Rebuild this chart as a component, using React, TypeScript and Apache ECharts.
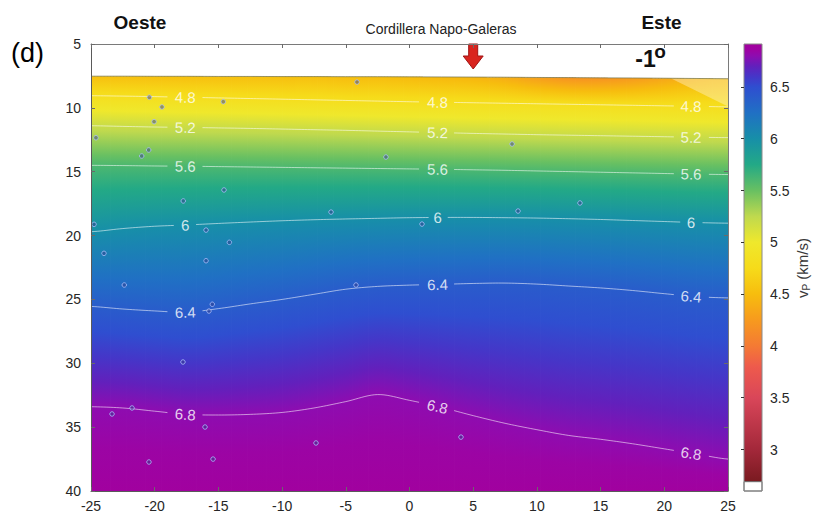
import React, { useEffect, useRef } from "react";
import * as echarts from "echarts";

const FONT = "Liberation Sans, Arial, sans-serif";

// Horizontal distance samples (km)
const distanceX = [-25, -22.5, -20, -17.5, -15, -12.5, -10, -7.5, -5, -2.5, 0, 2.5, 5, 7.5, 10, 12.5, 15, 17.5, 20, 22.5, 25];

// Top of the model (depth, km) and Vp at that surface
const surfaceDepth = [7.52, 7.52, 7.53, 7.53, 7.54, 7.54, 7.55, 7.55, 7.56, 7.56, 7.57, 7.58, 7.59, 7.6, 7.62, 7.63, 7.65, 7.66, 7.68, 7.7, 7.72];
const surfaceVp = [4.52, 4.52, 4.52, 4.52, 4.52, 4.52, 4.52, 4.52, 4.5, 4.5, 4.48, 4.46, 4.44, 4.38, 4.28, 4.2, 4.2, 4.25, 4.34, 4.44, 4.5];

// Contour levels (km/s) and their depths (km) at distanceX
const contourLevels = [4.8, 5.2, 5.6, 6.0, 6.4, 6.8];
const depth48 = [9.05, 9.08, 9.12, 9.17, 9.22, 9.27, 9.32, 9.37, 9.42, 9.47, 9.52, 9.56, 9.6, 9.64, 9.68, 9.72, 9.76, 9.8, 9.84, 9.88, 9.92];
const depth52 = [11.4, 11.45, 11.5, 11.53, 11.57, 11.61, 11.66, 11.71, 11.76, 11.82, 11.88, 11.94, 12.0, 12.05, 12.1, 12.14, 12.18, 12.22, 12.26, 12.3, 12.33];
const depth56 = [14.5, 14.52, 14.55, 14.57, 14.6, 14.63, 14.66, 14.69, 14.72, 14.75, 14.78, 14.81, 14.85, 14.89, 14.94, 14.99, 15.04, 15.09, 15.14, 15.19, 15.22];
const depth60 = [19.7, 19.45, 19.27, 19.17, 19.05, 18.94, 18.84, 18.76, 18.7, 18.65, 18.6, 18.58, 18.58, 18.6, 18.63, 18.68, 18.74, 18.82, 18.9, 18.98, 19.03];
const depth64 = [25.55, 25.75, 25.9, 26.0, 25.72, 25.35, 25.0, 24.6, 24.2, 23.98, 23.88, 23.82, 23.75, 23.72, 23.8, 23.95, 24.1, 24.3, 24.55, 24.78, 24.88];
const depth68 = [33.4, 33.5, 33.75, 34.0, 34.05, 34.0, 33.85, 33.5, 33.0, 32.45, 32.9, 33.45, 34.1, 34.7, 35.2, 35.65, 35.95, 36.3, 36.7, 37.1, 37.5];
const levelDepths = [depth48, depth52, depth56, depth60, depth64, depth68];

// Bottom of the section
const bottomDepth = 40;
const bottomVp = [6.9, 6.9, 6.9, 6.9, 6.9, 6.9, 6.9, 6.9, 6.9, 6.9, 6.9, 6.9, 6.9, 6.9, 6.9, 6.9, 6.9, 6.9, 6.9, 6.9, 6.9];

// Contour label positions (distance, km)
const clabelX = [-17.6, 2.2, 22.1];

// Poorly resolved corner (distance, depth)
const lowResX = [20.5, 25, 25];
const lowResDepth = [7.69, 7.72, 9.9];

// Hypocentres
const quakeX = [-20.42, -19.43, -20.05, -14.62, -24.61, -20.47, -21.02, -4.12, -1.85, 8.05, -14.56, -17.76, -6.16, -24.76, -15.97, 0.98, 8.52, 13.38, -14.14, -23.98, -15.97, -22.39, -4.2, -15.48, -15.74, -17.78, -23.35, -21.78, -16.05, -20.45, -15.42, -7.34, 4.04];
const quakeDepth = [9.17, 9.93, 11.08, 9.52, 12.34, 13.3, 13.77, 7.98, 13.85, 12.83, 16.43, 17.29, 18.16, 19.12, 19.57, 19.1, 18.08, 17.45, 20.53, 21.39, 21.97, 23.87, 23.87, 25.38, 25.91, 29.9, 33.97, 33.5, 34.99, 37.73, 37.5, 36.24, 35.78];

// Marker: Cordillera Napo-Galeras
const arrowX = 5;

// Colour bar
const cbMin = 2.6;
const cbColorMin = 2.69;
const cbMax = 6.914;
const cbTicks = [3, 3.5, 4, 4.5, 5, 5.5, 6, 6.5];

const cmapStops: [number, string][] = [
  [2.69, "#7a1a20"], [3.0, "#a3283a"], [3.5, "#d94659"], [3.8, "#ee5a4c"],
  [4.0, "#f47a34"], [4.25, "#f79a1e"], [4.5, "#f7bd0e"], [4.75, "#f6db1a"],
  [5.0, "#efe82c"], [5.25, "#bfd94e"], [5.5, "#68c062"], [5.75, "#23a986"],
  [6.0, "#178fa8"], [6.25, "#2070c4"], [6.5, "#2f4ed0"], [6.6, "#4536c8"],
  [6.7, "#6220bc"], [6.8, "#8e0cb0"], [6.85, "#9c04a4"], [6.914, "#a3009e"],
];

function hexToRgb(h: string) {
  const n = parseInt(h.slice(1), 16);
  return [(n >> 16) & 255, (n >> 8) & 255, n & 255];
}
const cmapRgb = cmapStops.map(([v, h]) => [v, hexToRgb(h)] as [number, number[]]);

function colorAt(v: number): string {
  const toS = (c: number[]) => `rgb(${Math.round(c[0])},${Math.round(c[1])},${Math.round(c[2])})`;
  if (v <= cmapRgb[0][0]) return toS(cmapRgb[0][1]);
  for (let i = 0; i < cmapRgb.length - 1; i++) {
    const [v0, c0] = cmapRgb[i];
    const [v1, c1] = cmapRgb[i + 1];
    if (v <= v1) {
      const t = (v - v0) / (v1 - v0);
      return toS([c0[0] + (c1[0] - c0[0]) * t, c0[1] + (c1[1] - c0[1]) * t, c0[2] + (c1[2] - c0[2]) * t]);
    }
  }
  return toS(cmapRgb[cmapRgb.length - 1][1]);
}

function sampleAt(arr: number[], x: number): number {
  const n = arr.length;
  const h = distanceX[1] - distanceX[0];
  const t = (x - distanceX[0]) / h;
  let i = Math.floor(t);
  if (i < 0) i = 0;
  if (i > n - 2) i = n - 2;
  const u = Math.min(Math.max(t - i, 0), 1);
  const p0 = arr[Math.max(i - 1, 0)];
  const p1 = arr[i];
  const p2 = arr[i + 1];
  const p3 = arr[Math.min(i + 2, n - 1)];
  return 0.5 * (2 * p1 + (-p0 + p2) * u + (2 * p0 - 5 * p1 + 4 * p2 - p3) * u * u + (-p0 + 3 * p1 - 3 * p2 + p3) * u * u * u);
}

function renderField(params: any, api: any) {
  const i = params.dataIndex;
  const x0 = distanceX[i];
  const x1 = distanceX[i + 1];
  const sub = 10;
  const children: any[] = [];
  for (let k = 0; k < sub; k++) {
    const xa = x0 + ((x1 - x0) * k) / sub;
    const xb = x0 + ((x1 - x0) * (k + 1)) / sub;
    const xm = (xa + xb) / 2;
    const nodes: [number, number][] = [[sampleAt(surfaceDepth, xm), sampleAt(surfaceVp, xm)]];
    contourLevels.forEach((L, j) => nodes.push([sampleAt(levelDepths[j], xm), L]));
    nodes.push([bottomDepth, sampleAt(bottomVp, xm)]);
    const dTop = nodes[0][0];
    const span = bottomDepth - dTop;
    const stops: any[] = [];
    const clamp = (o: number) => Math.min(1, Math.max(0, o));
    for (let n = 0; n < nodes.length - 1; n++) {
      const [d0, v0] = nodes[n];
      const [d1, v1] = nodes[n + 1];
      stops.push({ offset: clamp((d0 - dTop) / span), color: colorAt(v0) });
      const inner = cmapStops.map((s) => s[0]).filter((c) => (c - v0) * (c - v1) < 0);
      if (v1 < v0) inner.reverse();
      for (const c of inner) {
        const d = d0 + ((c - v0) / (v1 - v0)) * (d1 - d0);
        stops.push({ offset: clamp((d - dTop) / span), color: colorAt(c) });
      }
    }
    stops.push({ offset: 1, color: colorAt(nodes[nodes.length - 1][1]) });
    const pA = api.coord([xa, dTop]);
    const pB = api.coord([xb, bottomDepth]);
    children.push({
      type: "rect",
      shape: { x: pA[0], y: pA[1], width: pB[0] - pA[0] + 0.8, height: pB[1] - pA[1] },
      style: { fill: new echarts.graphic.LinearGradient(0, 0, 0, 1, stops) },
    });
  }
  return { type: "group", children };
}

function labelHalfKm(text: string) {
  return (text.length * 3.8 + 5) / 12.74;
}

function renderContour(params: any, api: any) {
  const j = params.dataIndex;
  const text = String(contourLevels[j]);
  const half = labelHalfKm(text);
  const segs: number[][][] = [];
  let cur: number[][] = [];
  const step = 0.25;
  const xEnd = distanceX[distanceX.length - 1];
  for (let x = distanceX[0]; x <= xEnd + 1e-9; x += step) {
    const inGap = clabelX.some((lx) => Math.abs(x - lx) < half);
    if (inGap) {
      if (cur.length > 1) segs.push(cur);
      cur = [];
      continue;
    }
    cur.push(api.coord([x, sampleAt(levelDepths[j], x)]));
  }
  if (cur.length > 1) segs.push(cur);
  return {
    type: "group",
    children: segs.map((pts) => ({
      type: "polyline",
      shape: { points: pts },
      style: { stroke: "rgba(255,255,255,0.55)", lineWidth: 1, fill: null },
    })),
  };
}

const labelData: number[][] = [];
contourLevels.forEach((L, j) => {
  clabelX.forEach((lx) => labelData.push([lx, sampleAt(levelDepths[j], lx), L, j]));
});

function renderLabel(params: any, api: any) {
  const lx = api.value(0);
  const d = api.value(1);
  const L = api.value(2);
  const j = api.value(3);
  const p = api.coord([lx, d]);
  const pl = api.coord([lx - 0.8, sampleAt(levelDepths[j], lx - 0.8)]);
  const pr = api.coord([lx + 0.8, sampleAt(levelDepths[j], lx + 0.8)]);
  const rot = -Math.atan2(pr[1] - pl[1], pr[0] - pl[0]);
  return {
    type: "text",
    x: p[0],
    y: p[1],
    rotation: rot,
    style: {
      text: String(L),
      fill: "rgba(255,255,255,0.8)",
      fontSize: 15,
      fontFamily: FONT,
      align: "center",
      verticalAlign: "middle",
    },
  };
}

function renderLowRes(params: any, api: any) {
  const pts = lowResX.map((x, i) => api.coord([x, lowResDepth[i]]));
  return {
    type: "polygon",
    shape: { points: pts },
    style: { fill: "rgba(255,248,225,0.38)", stroke: null },
  };
}

function renderArrow(params: any, api: any) {
  const p = api.coord([api.value(0), api.value(1)]);
  const cx = p[0];
  const top = p[1];
  const pts = [
    [cx - 4.5, top], [cx + 4.5, top], [cx + 4.5, top + 12], [cx + 10, top + 12],
    [cx, top + 25], [cx - 10, top + 12], [cx - 4.5, top + 12],
  ];
  return {
    type: "polygon",
    shape: { points: pts },
    style: { fill: "#d9241e", stroke: "#a01414", lineWidth: 1 },
  };
}

function renderColorbar(params: any, api: any) {
  const pTop = api.coord([0, cbMax]);
  const pCol = api.coord([1, cbColorMin]);
  const pBot = api.coord([1, cbMin]);
  const stops: any[] = [];
  for (let i = cmapStops.length - 1; i >= 0; i--) {
    const v = cmapStops[i][0];
    if (v < cbColorMin || v > cbMax) continue;
    stops.push({ offset: (cbMax - v) / (cbMax - cbColorMin), color: cmapStops[i][1] });
  }
  const w = pCol[0] - pTop[0];
  return {
    type: "group",
    children: [
      {
        type: "rect",
        shape: { x: pTop[0], y: pTop[1], width: w, height: pCol[1] - pTop[1] },
        style: { fill: new echarts.graphic.LinearGradient(0, 0, 0, 1, stops) },
      },
      {
        type: "rect",
        shape: { x: pTop[0], y: pCol[1], width: w, height: pBot[1] - pCol[1] },
        style: { fill: "#ffffff", stroke: "#666", lineWidth: 1 },
      },
      {
        type: "rect",
        shape: { x: pTop[0], y: pTop[1], width: w, height: pBot[1] - pTop[1] },
        style: { fill: null, stroke: "#8a8a8a", lineWidth: 1 },
      },
    ],
  };
}

export default function App() {
  const ref = useRef<HTMLDivElement>(null);
  useEffect(() => {
    if (!ref.current) return;
    const chart = echarts.init(ref.current, null, { renderer: "svg" });
    const axisCommon = {
      z: 10,
      splitLine: { show: false },
      axisLine: { show: true, onZero: false, lineStyle: { color: "#5a5a5a", width: 1 } },
      axisTick: { show: true, inside: true, length: 4, lineStyle: { color: "#6a6a6a" } },
    };
    const option: any = {
      animation: false,
      backgroundColor: "#ffffff",
      textStyle: { fontFamily: FONT },
      grid: [
        { left: 91, top: 44, width: 637, height: 447 },
        { left: 744, top: 44, width: 18, height: 447 },
      ],
      xAxis: [
        { ...axisCommon, type: "value", gridIndex: 0, min: -25, max: 25, interval: 5, position: "bottom",
          axisLabel: { fontSize: 14, color: "#262626", margin: 8, fontFamily: FONT } },
        { ...axisCommon, type: "value", gridIndex: 0, min: -25, max: 25, interval: 5, position: "top",
          axisLine: { show: true, onZero: false, lineStyle: { color: "#7a7a7a", width: 1 } },
          axisLabel: { show: false } },
        { type: "value", gridIndex: 1, min: 0, max: 1, show: false },
      ],
      yAxis: [
        { ...axisCommon, type: "value", gridIndex: 0, min: 5, max: 40, interval: 5, inverse: true, position: "left",
          axisLabel: { fontSize: 14, color: "#262626", margin: 10, fontFamily: FONT } },
        { ...axisCommon, type: "value", gridIndex: 0, min: 5, max: 40, interval: 5, inverse: true, position: "right",
          axisLine: { show: true, onZero: false, lineStyle: { color: "#7a7a7a", width: 1 } },
          axisLabel: { show: false } },
        { type: "value", gridIndex: 1, min: cbMin, max: cbMax, position: "right", z: 10,
          splitLine: { show: false },
          axisLine: { show: false },
          axisTick: { show: true, inside: true, length: 3, customValues: cbTicks, lineStyle: { color: "#333" } },
          axisLabel: { show: true, customValues: cbTicks, fontSize: 14, color: "#262626", margin: 8, fontFamily: FONT,
            formatter: (v: number) => String(v) } },
      ],
      series: [
        {
          type: "custom", name: "vp", xAxisIndex: 0, yAxisIndex: 0, z: 1, silent: true, clip: true,
          data: distanceX.slice(0, -1).map((x, i) => [x, surfaceDepth[i]]),
          renderItem: renderField,
        },
        {
          type: "custom", name: "lowres", xAxisIndex: 0, yAxisIndex: 0, z: 2, silent: true, clip: true,
          data: [[lowResX[0], lowResDepth[0]]],
          renderItem: renderLowRes,
        },
        {
          type: "line", name: "surface", xAxisIndex: 0, yAxisIndex: 0, z: 3, silent: true,
          data: distanceX.map((x, i) => [x, surfaceDepth[i]]),
          showSymbol: false, symbol: "none",
          lineStyle: { color: "rgba(120,120,80,0.75)", width: 1 },
        },
        {
          type: "custom", name: "contours", xAxisIndex: 0, yAxisIndex: 0, z: 3, silent: true, clip: true,
          data: contourLevels.map((L, j) => [distanceX[0], levelDepths[j][0], L]),
          renderItem: renderContour,
        },
        {
          type: "custom", name: "clabels", xAxisIndex: 0, yAxisIndex: 0, z: 4, silent: true,
          data: labelData,
          renderItem: renderLabel,
        },
        {
          type: "scatter", name: "quakes", xAxisIndex: 0, yAxisIndex: 0, z: 5, silent: true,
          data: quakeX.map((x, i) => [x, quakeDepth[i]]),
          symbol: "circle", symbolSize: 4.5,
          itemStyle: { color: "rgba(50,58,135,0.6)", borderColor: "rgba(175,195,255,0.95)", borderWidth: 1 },
        },
        {
          type: "custom", name: "arrow", xAxisIndex: 0, yAxisIndex: 0, z: 6, silent: true, clip: false,
          data: [[arrowX, 5]],
          renderItem: renderArrow,
        },
        {
          type: "custom", name: "colorbar", xAxisIndex: 2, yAxisIndex: 2, z: 1, silent: true, clip: false,
          data: [[0, cbMax]],
          renderItem: renderColorbar,
        },
      ],
      graphic: [
        { type: "text", x: 27.5, y: 52.5, style: { text: "(d)", fontSize: 27, fontFamily: FONT, fill: "#000", align: "center", verticalAlign: "middle" } },
        { type: "text", x: 140, y: 22, style: { text: "Oeste", fontSize: 19, fontWeight: "bold", fontFamily: FONT, fill: "#111", align: "center", verticalAlign: "middle" } },
        { type: "text", x: 661.5, y: 22, style: { text: "Este", fontSize: 19, fontWeight: "bold", fontFamily: FONT, fill: "#111", align: "center", verticalAlign: "middle" } },
        { type: "text", x: 441, y: 28.5, style: { text: "Cordillera Napo-Galeras", fontSize: 14, fontFamily: FONT, fill: "#222", align: "center", verticalAlign: "middle" } },
        { type: "text", x: 645.5, y: 59, z: 20, style: { text: "-1", fontSize: 23, fontWeight: "bold", fontFamily: FONT, fill: "#111", align: "center", verticalAlign: "middle" } },
        { type: "text", x: 660, y: 51, z: 20, style: { text: "o", fontSize: 19, fontWeight: "bold", fontFamily: FONT, fill: "#111", align: "center", verticalAlign: "middle" } },
        {
          type: "text", x: 802, y: 268, rotation: Math.PI / 2,
          style: {
            text: "{v|v}{s|P}{v| (km/s)}",
            align: "center", verticalAlign: "middle",
            rich: {
              v: { fontSize: 15, fontFamily: FONT, fill: "#3a3a3a", lineHeight: 18 },
              s: { fontSize: 10, fontFamily: FONT, fill: "#3a3a3a", lineHeight: 8, verticalAlign: "bottom" },
            },
          },
        },
      ],
    };
    chart.setOption(option);
    return () => chart.dispose();
  }, []);
  return <div ref={ref} style={{ position: "fixed", left: 0, top: 0, width: 817, height: 515 }} />;
}
